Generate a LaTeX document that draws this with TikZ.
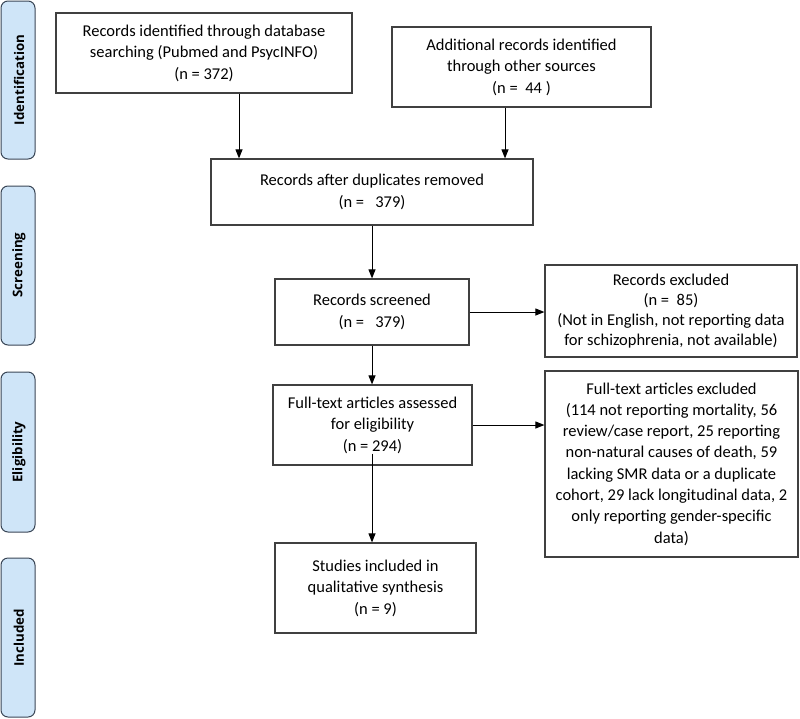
\documentclass[tikz,border=0pt]{standalone}
\usepackage{fontspec}
\setmainfont{Carlito}
\newfontfamily\sidefont{Open Sans}
\usetikzlibrary{arrows.meta}
\definecolor{boxline}{HTML}{404040}
\definecolor{phaseline}{HTML}{3A4656}
\definecolor{phasefill}{HTML}{CFE5F8}
\begin{document}
\begin{tikzpicture}[x=1pt,y=-1pt,
 box/.style={draw=boxline, line width=1.2pt, fill=white, align=center, inner sep=0pt, font=\fontsize{16.5}{21.5}\selectfont},
 phase/.style={draw=phaseline, fill=phasefill, rounded corners=7pt, line width=1pt},
 phasetext/.style={rotate=90, font=\sidefont\bfseries\fontsize{13.3}{15}\selectfont},
 arr/.style={-{Triangle[length=9pt,width=7pt]}, line width=1pt}]
\useasboundingbox (0,0) rectangle (800,718);

% phase bars
\draw[phase] (1,1) rectangle (35,159);
\node[phasetext] (pid) at (19,80) {Identification};
\draw[phase] (1,186) rectangle (35,345);
\node[phasetext] (psc) at (19,265) {Screening};
\draw[phase] (1,372) rectangle (35,532);
\node[phasetext] (pel) at (19,452) {Eligibility};
\draw[phase] (1,558) rectangle (35,717);
\node[phasetext] (pin) at (19,638) {Included};

% boxes
\node[box, minimum width=296pt, minimum height=80pt] (b1) at (204,53)
 {Records identified through database\\searching (Pubmed and PsycINFO)\\(n = 372)};
\node[box, minimum width=259pt, minimum height=80pt] (b2) at (521.5,67)
 {Additional records identified\\through other sources\\(n =\ \ 44 )};
\node[box, minimum width=322pt, minimum height=66pt] (b3) at (372,192)
 {Records after duplicates removed\\(n =\ \ \ 379)};
\node[box, minimum width=194pt, minimum height=66pt] (sc) at (372,312)
 {Records screened\\(n =\ \ \ 379)};
\node[box, minimum width=252pt, minimum height=92pt, font=\fontsize{16.5}{20}\selectfont] (ex) at (671,311)
 {Records excluded\\(n =\ \ 85)\\(Not in English, not reporting data\\for schizophrenia, not available)};
\node[box, minimum width=199pt, minimum height=80pt] (ft) at (372.5,425)
 {Full-text articles assessed\\for eligibility\\(n = 294)};
\node[box, minimum width=253pt, minimum height=186pt, font=\fontsize{16.5}{21.3}\selectfont] (fte) at (671.5,464)
 {Full-text articles excluded\\(114 not reporting mortality, 56\\review/case report, 25 reporting\\non-natural causes of death, 59\\lacking SMR data or a duplicate\\cohort, 29 lack longitudinal data, 2\\only reporting gender-specific\\data)};
\node[box, minimum width=201pt, minimum height=90pt] (inc) at (375.5,588)
 {Studies included in\\qualitative synthesis\\(n = 9)};

% connectors
\coordinate (c1) at (239,0);
\coordinate (c2) at (505,0);
\coordinate (c3) at (372,0);
\draw[arr] (c1 |- b1.south) -- (c1 |- b3.north);
\draw[arr] (c2 |- b2.south) -- (c2 |- b3.north);
\draw[arr] (c3 |- b3.south) -- (c3 |- sc.north);
\draw[arr] (c3 |- sc.south) -- (c3 |- ft.north);
\draw[arr] ([yshift=12pt]c3 |- ft.south) -- (c3 |- inc.north);
\draw[arr] (sc.east) -- (sc.east -| ex.west);
\draw[arr] (ft.east) -- (ft.east -| fte.west);
\end{tikzpicture}
\end{document}
